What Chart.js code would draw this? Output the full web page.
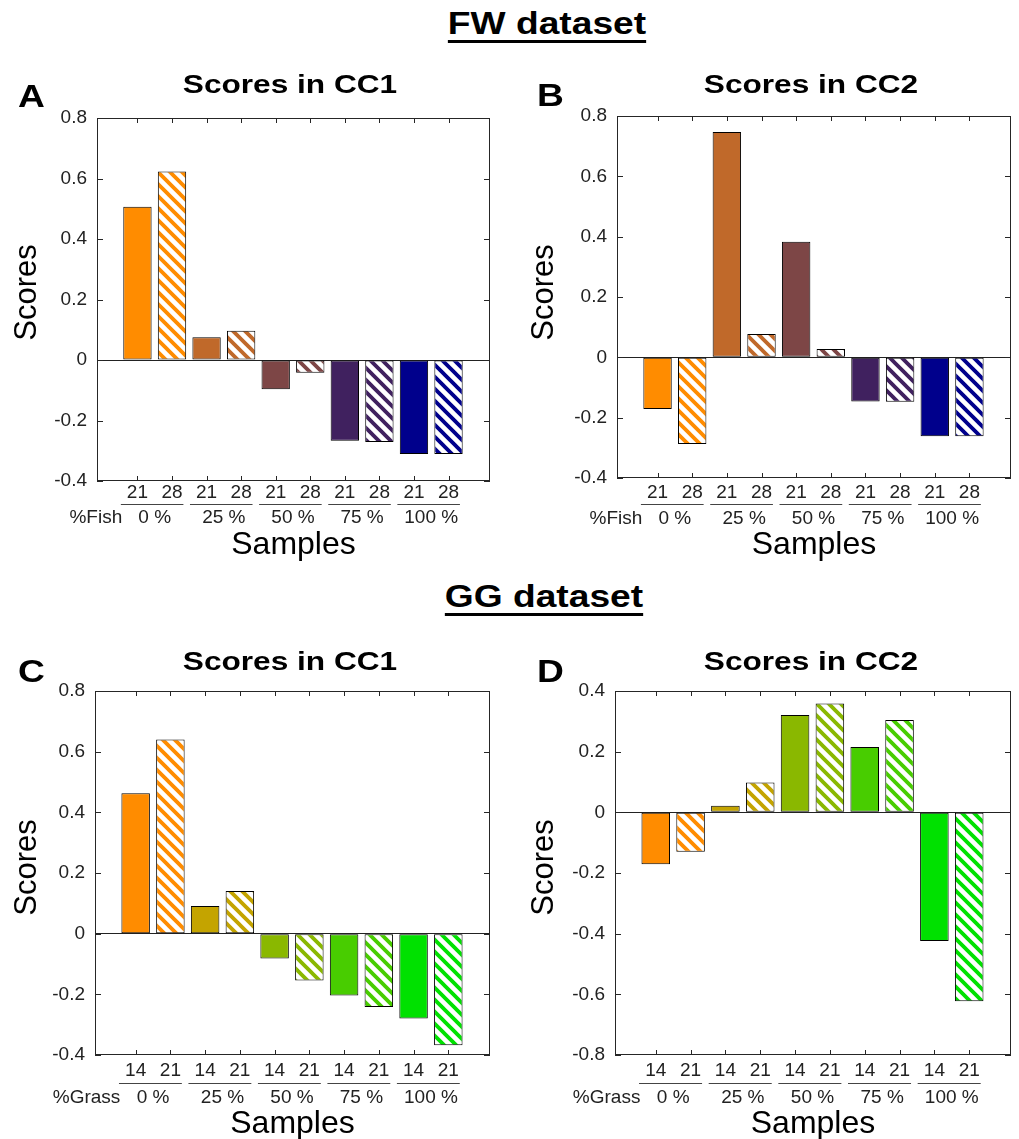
<!DOCTYPE html>
<html>
<head>
<meta charset="utf-8">
<title>FW / GG dataset scores</title>
<script src="https://cdn.jsdelivr.net/npm/chart.js@4.4.1/dist/chart.umd.min.js"></script>
<style>
  body { margin: 0; background: #fff; }
  #page { position: relative; width: 1019px; height: 1139px; overflow: hidden; background: #fff; }
  .panel { position: absolute; }
  .head { position: absolute; width: 300px; text-align: center; color: #000;
          font: bold 31.5px/1 "Liberation Sans", Arial, sans-serif;
          text-decoration: underline; text-decoration-thickness: 3px; text-underline-offset: 6px;
          transform: scaleX(1.18); }
</style>
</head>
<body>
<div id="page">
  <div class="head" style="left:397px; top:8px">FW dataset</div>
  <div class="head" style="left:394px; top:581px">GG dataset</div>
  <div class="panel" id="pA"><canvas id="cA"></canvas></div>
  <div class="panel" id="pB"><canvas id="cB"></canvas></div>
  <div class="panel" id="pC"><canvas id="cC"></canvas></div>
  <div class="panel" id="pD"><canvas id="cD"></canvas></div>
</div>
<script>
const FONT = '"Liberation Sans", Arial, sans-serif';
Chart.defaults.font.family = FONT;

// sampling days and diet groups (x axis)
const fishDays = ['21', '28'];
const grassDays = ['14', '21'];
const dietGroups = ['0 %', '25 %', '50 %', '75 %', '100 %'];

// scores, order: 0% day1, 0% day2, 25% day1, 25% day2, ...
const fwScoresCC1 = [0.507, 0.623, 0.075, 0.097, -0.097, -0.042, -0.267, -0.271, -0.311, -0.311];
const fwScoresCC2 = [-0.171, -0.287, 0.747, 0.077, 0.383, 0.028, -0.146, -0.147, -0.262, -0.262];
const ggScoresCC1 = [0.463, 0.640, 0.091, 0.141, -0.082, -0.154, -0.204, -0.242, -0.280, -0.368];
const ggScoresCC2 = [-0.171, -0.130, 0.022, 0.098, 0.321, 0.359, 0.215, 0.304, -0.424, -0.623];

// y tick labels
const yTicksMain = [-0.4, -0.2, 0, 0.2, 0.4, 0.6, 0.8];
const yTicksGG2 = [-0.8, -0.6, -0.4, -0.2, 0, 0.2, 0.4];

const fishColors = ['#ff8c00', '#c0692a', '#7d4646', '#40215f', '#00008c'];
const grassColors = ['#ff8c00', '#c4a400', '#8ab800', '#48cd00', '#00e100'];

// page positions of each panel (box = canvas, area = plot box)
const layoutA = {box: [0, 50, 510, 520], area: [97, 118, 490, 481], scoresAt: [27.6, 292.5], samplesY: 545.6,
  letterAt: [18, 107], titleAt: [290, 93], dayBase: 499, lineY: 504, groupBase: 523};
const layoutB = {box: [510, 50, 509, 520], area: [617, 116, 1011, 478], scoresAt: [544.3, 292.5], samplesY: 545.6,
  letterAt: [537, 106], titleAt: [811, 93], dayBase: 499, lineY: 504, groupBase: 524};
const layoutC = {box: [0, 625, 510, 520], area: [95, 691, 490, 1055], scoresAt: [27.6, 867.5], samplesY: 1123.9,
  letterAt: [18, 682], titleAt: [290, 670], dayBase: 1077, lineY: 1083, groupBase: 1102.5};
const layoutD = {box: [510, 625, 509, 520], area: [615, 691, 1011, 1055], scoresAt: [544.3, 867.5], samplesY: 1123.9,
  letterAt: [537, 682], titleAt: [811, 670], dayBase: 1077, lineY: 1083, groupBase: 1103};

function hatch(color) {
    const c = document.createElement('canvas');
    c.width = c.height = 12;
    const g = c.getContext('2d');
    g.fillStyle = '#fff';
    g.fillRect(0, 0, 12, 12);
    g.strokeStyle = color;
    g.lineWidth = 3.8;
    g.beginPath();
    for (const o of [-12, 0, 12]) {
        g.moveTo(o - 3, -3);
        g.lineTo(o + 15, 15);
    }
    g.stroke();
    return g.createPattern(c, 'repeat');
}

function stretchText(ctx, text, x, y, size, sx, align) {
    ctx.save();
    ctx.translate(x, y);
    ctx.scale(sx, 1);
    ctx.font = 'bold ' + size + 'px ' + FONT;
    ctx.textAlign = align;
    ctx.textBaseline = 'alphabetic';
    ctx.fillStyle = '#000';
    ctx.fillText(text, 0, 0);
    ctx.restore();
}

// box, inward ticks, titles and the group row under the axis
const decor = {
    id: 'decor',
    afterDatasetsDraw(chart, args, o) {
        const { ctx, chartArea: a, scales: { x, y } } = chart;
        const ox = o.L.box[0], oy = o.L.box[1];

        ctx.save();
        ctx.strokeStyle = '#262626';
        ctx.lineWidth = 1;
        ctx.strokeRect(a.left + 0.5, a.top + 0.5, a.right - a.left - 1, a.bottom - a.top - 1);
        ctx.beginPath();
        y.ticks.forEach(t => {
            const py = Math.round(y.getPixelForValue(t.value)) + 0.5;
            ctx.moveTo(a.left, py); ctx.lineTo(a.left + 6, py);
            ctx.moveTo(a.right, py); ctx.lineTo(a.right - 6, py);
        });
        x.ticks.forEach(t => {
            const px = Math.round(x.getPixelForValue(t.value)) + 0.5;
            ctx.moveTo(px, a.top); ctx.lineTo(px, a.top + 5);
            ctx.moveTo(px, a.bottom); ctx.lineTo(px, a.bottom - 5);
        });
        ctx.stroke();

        stretchText(ctx, o.letter, o.L.letterAt[0] - ox, o.L.letterAt[1] - oy, 31, 1.2, 'left');
        stretchText(ctx, o.title, o.L.titleAt[0] - ox, o.L.titleAt[1] - oy, 25.5, 1.24, 'center');

        // y axis label
        ctx.save();
        ctx.translate(o.L.scoresAt[0] - ox, o.L.scoresAt[1] - oy);
        ctx.rotate(-Math.PI / 2);
        ctx.font = '31px ' + FONT;
        ctx.fillStyle = '#000';
        ctx.textAlign = 'center';
        ctx.textBaseline = 'middle';
        ctx.fillText('Scores', 0, 0);
        ctx.restore();

        ctx.font = '19px ' + FONT;
        ctx.fillStyle = '#222';
        ctx.textBaseline = 'alphabetic';
        ctx.strokeStyle = '#444';
        const ly = Math.round(o.L.lineY - oy) + 0.5;
        dietGroups.forEach((g, i) => {
            const v1 = 2 * i + 1, v2 = 2 * i + 2;
            ctx.beginPath();
            ctx.moveTo(x.getPixelForValue(v1 - 0.48), ly);
            ctx.lineTo(x.getPixelForValue(v2 + 0.33), ly);
            ctx.stroke();
            ctx.textAlign = 'center';
            ctx.fillText(g, (x.getPixelForValue(v1) + x.getPixelForValue(v2)) / 2, o.L.groupBase - oy);
        });
        ctx.textAlign = 'right';
        ctx.fillText(o.groupName, x.getPixelForValue(0.56), o.L.groupBase - oy);
        ctx.restore();
    }
};

function makePanel(id, L, scores, yTicks, days, colors, letter, title, groupName) {
    const [bx, by, bw, bh] = L.box;
    const [al, at, ar, ab] = L.area;
    const holder = document.getElementById('p' + id);
    holder.style.left = bx + 'px';
    holder.style.top = by + 'px';
    holder.style.width = bw + 'px';
    holder.style.height = bh + 'px';

    const padLeft = 4;
    const dayPad = Math.max(0, L.dayBase - 6.6 - ab - 11.4);

    // solid bar for first day, hatched bar for second day
    const fills = [], points = [];
    scores.forEach((v, i) => {
        const c = colors[Math.floor(i / 2)];
        fills.push(i % 2 === 0 ? c : hatch(c));
        points.push({ x: i + 1, y: v });
    });

    return new Chart(document.getElementById('c' + id), {
        type: 'bar',
        data: {
            datasets: [{
                data: points,
                backgroundColor: fills,
                borderColor: '#000',
                borderWidth: 1,
                borderSkipped: false,
                barPercentage: 0.82,
                categoryPercentage: 1
            }]
        },
        options: {
            responsive: true,
            maintainAspectRatio: false,
            animation: false,
            layout: { padding: { left: padLeft, top: at - by, right: bx + bw - ar, bottom: 0 } },
            plugins: {
                legend: { display: false },
                tooltip: { enabled: false },
                decor: { L: L, letter: letter, title: title, groupName: groupName }
            },
            scales: {
                x: {
                    type: 'linear',
                    min: -0.17,
                    max: 11.2,
                    offset: false,
                    grid: { display: false, drawTicks: false },
                    border: { display: false },
                    afterBuildTicks: s => { s.ticks = scores.map((v, i) => ({ value: i + 1 })); },
                    afterFit: s => { s.height = by + bh - ab; },
                    ticks: {
                        autoSkip: false, maxRotation: 0, padding: dayPad, color: '#222',
                        font: { size: 19 },
                        callback: (v, i) => days[i % 2]
                    },
                    title: {
                        display: true, text: 'Samples', color: '#000',
                        font: { size: 32, lineHeight: 1 },
                        padding: { top: 0, bottom: by + bh - L.samplesY - 16 }
                    }
                },
                y: {
                    min: yTicks[0],
                    max: yTicks[yTicks.length - 1],
                    grid: {
                        color: c => (c.tick && c.tick.value === 0) ? '#222' : 'rgba(0,0,0,0)',
                        drawTicks: false,
                        lineWidth: 1
                    },
                    border: { display: false },
                    afterBuildTicks: s => { s.ticks = yTicks.map(v => ({ value: v })); },
                    afterFit: s => { s.width = al - bx - padLeft; },
                    ticks: { padding: 10, color: '#222', font: { size: 19 }, callback: v => String(v) },
                    title: { display: false }
                }
            }
        },
        plugins: [decor]
    });
}

makePanel('A', layoutA, fwScoresCC1, yTicksMain, fishDays, fishColors, 'A', 'Scores in CC1', '%Fish');
makePanel('B', layoutB, fwScoresCC2, yTicksMain, fishDays, fishColors, 'B', 'Scores in CC2', '%Fish');
makePanel('C', layoutC, ggScoresCC1, yTicksMain, grassDays, grassColors, 'C', 'Scores in CC1', '%Grass');
makePanel('D', layoutD, ggScoresCC2, yTicksGG2, grassDays, grassColors, 'D', 'Scores in CC2', '%Grass');
</script>
</body>
</html>
